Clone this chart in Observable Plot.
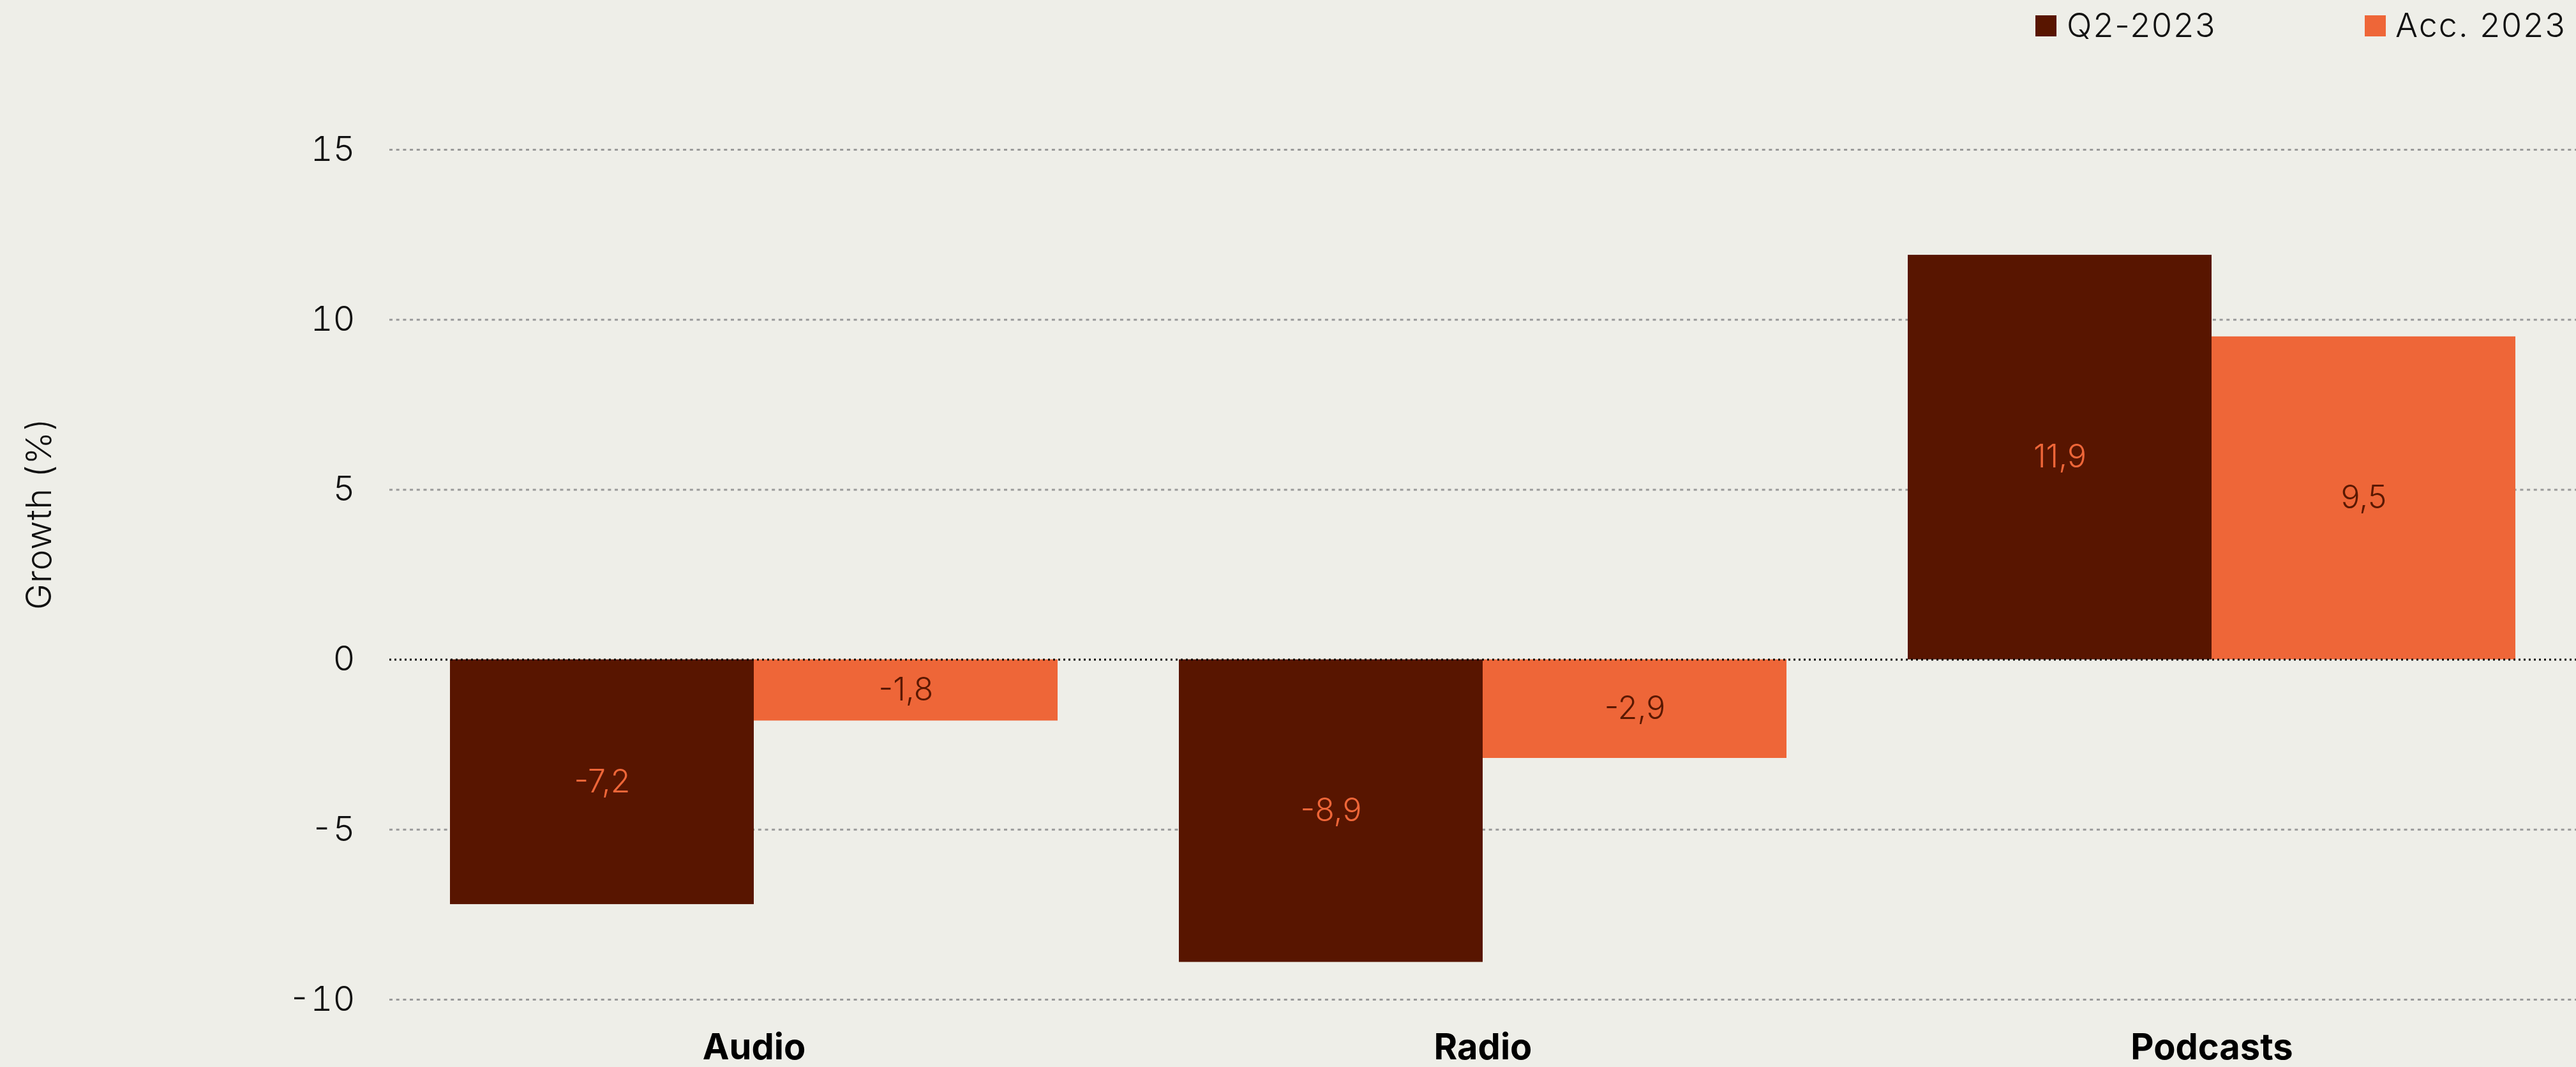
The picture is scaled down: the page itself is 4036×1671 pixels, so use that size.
<!DOCTYPE html>
<html>
<head>
<meta charset="utf-8">
<script src="https://cdn.jsdelivr.net/npm/d3@7"></script>
<script src="https://cdn.jsdelivr.net/npm/@observablehq/plot@0.6"></script>
<style>
  html, body { margin: 0; padding: 0; background: #EEEEE8; }
  body { width: 4036px; height: 1671px; overflow: hidden; font-family: Inter, "Liberation Sans", sans-serif; }
  #legend { position: relative; height: 80px; width: 4036px; }
  .sw { position: absolute; top: 24px; width: 33px; height: 33px; }
  .lt { position: absolute; top: 0; height: 80px; line-height: 80px; font-size: 52px; font-weight: 300; letter-spacing: 2px; color: #111; white-space: nowrap; }
  #chart svg { display: block; }
</style>
</head>
<body>
<div id="legend"></div>
<div id="chart"></div>
<script>
// ---- data ----
const categories = ["Audio", "Radio", "Podcasts"];
const seriesNames = ["Q2-2023", "Acc. 2023"];
const q2Values = [-7.2, -8.9, 11.9];
const accValues = [-1.8, -2.9, 9.5];
const yTicks = [-10, -5, 0, 5, 10, 15];
const yLabel = "Growth (%)";

const colors = {"Q2-2023": "#581500", "Acc. 2023": "#EE6638"};
const labelColors = {"Q2-2023": "#EE6638", "Acc. 2023": "#5A1800"};

const q2Data = categories.map((c, i) => ({category: c, series: seriesNames[0], value: q2Values[i]}));
const accData = categories.map((c, i) => ({category: c, series: seriesNames[1], value: accValues[i]}));

const fmt = v => v.toFixed(1).replace(".", ",");

// ---- legend ----
const legend = document.getElementById("legend");
const legendPos = [{sw: 3189, tx: 3238}, {sw: 3705, tx: 3753}];
seriesNames.forEach((s, i) => {
  const sq = document.createElement("div");
  sq.className = "sw";
  sq.style.left = legendPos[i].sw + "px";
  sq.style.background = colors[s];
  legend.appendChild(sq);
  const t = document.createElement("div");
  t.className = "lt";
  t.style.left = legendPos[i].tx + "px";
  t.textContent = s;
  legend.appendChild(t);
});

// ---- chart ----
const W = 4036, H = 1591;
const half = 476;

const plot = Plot.plot({
  width: W,
  height: H,
  marginLeft: 610,
  marginRight: 0,
  marginTop: 154,
  marginBottom: 106,
  style: {background: "transparent", fontFamily: "Inter, 'Liberation Sans', sans-serif", overflow: "visible"},
  x: {domain: categories, paddingInner: 0.1667, paddingOuter: 0.0833, label: null},
  y: {domain: [-10, 15], label: null},
  marks: [
    Plot.ruleY(yTicks.filter(t => t !== 0), {stroke: "#9A9A9A", strokeWidth: 3, strokeDasharray: "5,5.7"}),
    Plot.barY(q2Data, {x: "category", y: "value", fill: colors["Q2-2023"], insetRight: half}),
    Plot.barY(accData, {x: "category", y: "value", fill: colors["Acc. 2023"], insetLeft: half}),
    Plot.ruleY([0], {stroke: "#000", strokeWidth: 3, strokeDasharray: "3,5"}),
    Plot.text(q2Data, {x: "category", y: d => d.value / 2, text: d => fmt(d.value), dx: -half / 2, fill: labelColors["Q2-2023"], fontSize: 50, fontWeight: 300}),
    Plot.text(accData, {x: "category", y: d => d.value / 2, text: d => fmt(d.value), dx: half / 2, fill: labelColors["Acc. 2023"], fontSize: 50, fontWeight: 300}),
    Plot.axisY({ticks: yTicks, tickSize: 0, tickPadding: 54, fontSize: 54, fontWeight: 300, label: null, tickFormat: d => String(d), fill: "#111"}),
    Plot.axisX({tickSize: 0, tickPadding: 54, fontSize: 56, fontWeight: 700, label: null, fill: "#000"}),
    Plot.text([yLabel], {frameAnchor: "left", rotate: -90, dx: -548, dy: 55, fontSize: 55, fontWeight: 300, fill: "#111"})
  ]
});
plot.querySelectorAll("text").forEach(t => {
  if (t.textContent === yLabel) t.style.letterSpacing = "1px";
});
document.getElementById("chart").appendChild(plot);
</script>
</body>
</html>
